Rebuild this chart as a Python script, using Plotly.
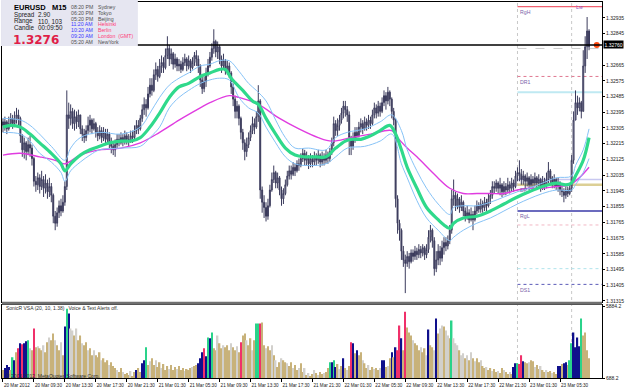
import plotly.graph_objects as go

# ---------------- data ----------------
close = [
1.3232,1.3234,1.3230,1.3233,1.3236,1.3233,1.3235,1.3238,1.3236,1.3226,
1.3218,1.3222,1.3217,1.3221,1.3219,1.3213,1.3200,1.3198,1.3202,1.3197,
1.3201,1.3196,1.3199,1.3194,1.3197,1.3192,1.3180,1.3176,1.3182,1.3186,
1.3183,1.3188,1.3197,1.3238,1.3236,1.3240,1.3233,1.3237,1.3234,1.3238,
1.3230,1.3227,1.3225,1.3229,1.3232,1.3235,1.3230,1.3233,1.3228,1.3226,
1.3229,1.3225,1.3228,1.3224,1.3227,1.3222,1.3220,1.3218,1.3221,1.3224,
1.3222,1.3225,1.3223,1.3226,1.3224,1.3223,1.3226,1.3225,1.3229,1.3232,
1.3230,1.3236,1.3241,1.3244,1.3242,1.3250,1.3255,1.3252,1.3261,1.3264,
1.3260,1.3266,1.3268,1.3265,1.3272,1.3276,1.3270,1.3273,1.3267,1.3270,
1.3266,1.3267,1.3264,1.3268,1.3270,1.3266,1.3269,1.3265,1.3268,1.3272,
1.3270,1.3266,1.3258,1.3253,1.3257,1.3262,1.3266,1.3271,1.3276,1.3280,
1.3274,1.3277,1.3270,1.3266,1.3269,1.3263,1.3266,1.3262,1.3254,1.3247,
1.3240,1.3243,1.3236,1.3228,1.3222,1.3217,1.3221,1.3225,1.3229,1.3233,
1.3231,1.3237,1.3246,1.3195,1.3188,1.3185,1.3180,1.3186,1.3195,1.3201,
1.3205,1.3199,1.3202,1.3195,1.3190,1.3193,1.3198,1.3203,1.3206,1.3204,
1.3208,1.3206,1.3210,1.3209,1.3213,1.3216,1.3212,1.3214,1.3210,1.3213,
1.3211,1.3214,1.3212,1.3215,1.3211,1.3214,1.3212,1.3215,1.3213,1.3217,
1.3222,1.3233,1.3229,1.3232,1.3235,1.3239,1.3243,1.3241,1.3238,1.3225,
1.3220,1.3225,1.3228,1.3226,1.3231,1.3233,1.3230,1.3234,1.3232,1.3235,
1.3233,1.3238,1.3242,1.3239,1.3243,1.3240,1.3245,1.3249,1.3246,1.3251,
1.3247,1.3240,1.3235,1.3190,1.3176,1.3172,1.3160,1.3155,1.3153,1.3157,
1.3154,1.3159,1.3157,1.3160,1.3158,1.3161,1.3159,1.3162,1.3158,1.3161,
1.3168,1.3172,1.3166,1.3150,1.3155,1.3160,1.3156,1.3162,1.3165,1.3163,
1.3166,1.3172,1.3190,1.3192,1.3186,1.3190,1.3185,1.3188,1.3183,1.3180,
1.3182,1.3178,1.3181,1.3178,1.3183,1.3186,1.3184,1.3187,1.3185,1.3188,
1.3186,1.3190,1.3192,1.3197,1.3196,1.3199,1.3196,1.3198,1.3194,1.3197,
1.3195,1.3198,1.3196,1.3199,1.3197,1.3203,1.3205,1.3204,1.3201,1.3203,
1.3200,1.3202,1.3198,1.3201,1.3199,1.3202,1.3199,1.3201,1.3197,1.3200,
1.3198,1.3201,1.3206,1.3202,1.3199,1.3201,1.3197,1.3199,1.3195,1.3194,
1.3192,1.3195,1.3193,1.3196,1.3212,1.3235,1.3245,1.3242,1.3245,1.3240,
1.3266,1.3277,1.3286,1.3277]

high = [
1.3236,1.3237,1.3235,1.3237,1.3239,1.3238,1.3240,1.3242,1.3241,1.3237,
1.3227,1.3225,1.3223,1.3225,1.3226,1.3221,1.3214,1.3203,1.3205,1.3204,
1.3206,1.3203,1.3204,1.3201,1.3202,1.3199,1.3193,1.3183,1.3185,1.3189,
1.3190,1.3192,1.3200,1.3252,1.3245,1.3244,1.3242,1.3241,1.3240,1.3241,
1.3238,1.3232,1.3230,1.3232,1.3237,1.3238,1.3236,1.3236,1.3234,1.3231,
1.3232,1.3231,1.3231,1.3230,1.3230,1.3228,1.3225,1.3223,1.3224,1.3227,
1.3227,1.3228,1.3227,1.3229,1.3228,1.3227,1.3229,1.3229,1.3232,1.3235,
1.3235,1.3238,1.3244,1.3248,1.3247,1.3254,1.3259,1.3259,1.3264,1.3268,
1.3266,1.3270,1.3272,1.3271,1.3276,1.3283,1.3278,1.3276,1.3274,1.3273,
1.3271,1.3270,1.3269,1.3271,1.3273,1.3271,1.3272,1.3270,1.3271,1.3274,
1.3275,1.3272,1.3267,1.3260,1.3260,1.3265,1.3270,1.3274,1.3279,1.3287,
1.3281,1.3280,1.3278,1.3272,1.3273,1.3270,1.3269,1.3268,1.3263,1.3256,
1.3249,1.3246,1.3244,1.3237,1.3230,1.3224,1.3225,1.3228,1.3232,1.3237,
1.3236,1.3240,1.3255,1.3247,1.3197,1.3192,1.3188,1.3190,1.3198,1.3205,
1.3209,1.3206,1.3205,1.3203,1.3197,1.3196,1.3201,1.3206,1.3209,1.3209,
1.3211,1.3210,1.3212,1.3213,1.3216,1.3219,1.3218,1.3217,1.3215,1.3216,
1.3215,1.3217,1.3216,1.3218,1.3216,1.3217,1.3216,1.3218,1.3217,1.3219,
1.3225,1.3237,1.3235,1.3236,1.3238,1.3242,1.3246,1.3246,1.3243,1.3240,
1.3226,1.3228,1.3231,1.3231,1.3234,1.3236,1.3235,1.3237,1.3236,1.3238,
1.3237,1.3241,1.3245,1.3244,1.3246,1.3245,1.3248,1.3252,1.3251,1.3254,
1.3252,1.3248,1.3242,1.3236,1.3192,1.3178,1.3173,1.3163,1.3158,1.3160,
1.3159,1.3161,1.3161,1.3163,1.3162,1.3164,1.3163,1.3164,1.3163,1.3164,
1.3172,1.3175,1.3173,1.3168,1.3160,1.3164,1.3163,1.3166,1.3168,1.3168,
1.3169,1.3175,1.3195,1.3201,1.3194,1.3193,1.3191,1.3192,1.3189,1.3185,
1.3186,1.3184,1.3185,1.3183,1.3186,1.3189,1.3188,1.3190,1.3189,1.3191,
1.3190,1.3193,1.3195,1.3200,1.3200,1.3201,1.3200,1.3202,1.3199,1.3200,
1.3199,1.3202,1.3200,1.3202,1.3201,1.3206,1.3208,1.3212,1.3207,1.3206,
1.3204,1.3205,1.3203,1.3204,1.3203,1.3205,1.3203,1.3204,1.3202,1.3203,
1.3202,1.3205,1.3211,1.3207,1.3203,1.3204,1.3202,1.3202,1.3200,1.3198,
1.3196,1.3197,1.3197,1.3199,1.3215,1.3240,1.3252,1.3249,1.3248,1.3246,
1.3275,1.3283,1.3294,1.3287]

low = [
1.3228,1.3229,1.3227,1.3229,1.3231,1.3230,1.3231,1.3233,1.3232,1.3222,
1.3214,1.3213,1.3212,1.3215,1.3214,1.3209,1.3197,1.3194,1.3195,1.3193,
1.3195,1.3191,1.3193,1.3190,1.3191,1.3188,1.3176,1.3172,1.3174,1.3179,
1.3180,1.3182,1.3186,1.3195,1.3230,1.3232,1.3230,1.3229,1.3230,1.3231,
1.3227,1.3223,1.3222,1.3223,1.3227,1.3228,1.3227,1.3229,1.3225,1.3223,
1.3224,1.3222,1.3223,1.3221,1.3222,1.3219,1.3216,1.3215,1.3214,1.3219,
1.3220,1.3221,1.3220,1.3221,1.3221,1.3220,1.3222,1.3222,1.3224,1.3227,
1.3227,1.3229,1.3234,1.3238,1.3237,1.3241,1.3248,1.3249,1.3251,1.3258,
1.3257,1.3259,1.3262,1.3262,1.3264,1.3270,1.3266,1.3267,1.3264,1.3265,
1.3263,1.3263,1.3262,1.3263,1.3266,1.3263,1.3264,1.3262,1.3264,1.3266,
1.3266,1.3262,1.3254,1.3250,1.3251,1.3254,1.3260,1.3265,1.3269,1.3273,
1.3271,1.3270,1.3267,1.3262,1.3264,1.3261,1.3261,1.3259,1.3250,1.3243,
1.3236,1.3236,1.3232,1.3224,1.3218,1.3212,1.3214,1.3219,1.3223,1.3227,
1.3227,1.3230,1.3234,1.3190,1.3182,1.3179,1.3177,1.3178,1.3185,1.3194,
1.3199,1.3196,1.3196,1.3192,1.3186,1.3187,1.3192,1.3197,1.3201,1.3201,
1.3203,1.3203,1.3205,1.3206,1.3208,1.3211,1.3209,1.3209,1.3207,1.3208,
1.3208,1.3209,1.3209,1.3210,1.3208,1.3209,1.3209,1.3210,1.3210,1.3211,
1.3215,1.3220,1.3226,1.3226,1.3229,1.3233,1.3236,1.3237,1.3234,1.3215,
1.3215,1.3218,1.3222,1.3223,1.3225,1.3228,1.3227,1.3229,1.3229,1.3230,
1.3230,1.3232,1.3236,1.3236,1.3237,1.3237,1.3239,1.3243,1.3241,1.3244,
1.3243,1.3236,1.3232,1.3185,1.3170,1.3166,1.3155,1.3151,1.3136,1.3151,
1.3150,1.3153,1.3154,1.3155,1.3155,1.3156,1.3156,1.3157,1.3155,1.3156,
1.3159,1.3165,1.3162,1.3146,1.3148,1.3152,1.3152,1.3154,1.3158,1.3160,
1.3161,1.3164,1.3170,1.3186,1.3183,1.3184,1.3182,1.3183,1.3180,1.3177,
1.3178,1.3176,1.3177,1.3172,1.3177,1.3181,1.3182,1.3182,1.3182,1.3183,
1.3183,1.3185,1.3187,1.3190,1.3193,1.3194,1.3193,1.3192,1.3191,1.3192,
1.3192,1.3193,1.3193,1.3194,1.3194,1.3196,1.3200,1.3200,1.3198,1.3198,
1.3196,1.3197,1.3195,1.3196,1.3196,1.3197,1.3196,1.3197,1.3194,1.3195,
1.3195,1.3196,1.3199,1.3199,1.3196,1.3196,1.3195,1.3194,1.3192,1.3191,
1.3188,1.3190,1.3191,1.3192,1.3194,1.3210,1.3235,1.3238,1.3240,1.3236,
1.3240,1.3262,1.3270,1.3275]

first_open = 1.3234

volume = [
654,817,1062,899,654,1716,1471,2124,2451,2860,
2778,2860,3023,3105,2451,2288,4085,2533,2614,2451,
2288,2696,2124,2941,3350,3105,3677,3105,2696,2288,
2941,1879,4248,5719,5311,4085,3922,3513,4085,3105,
3513,2860,2696,2941,2288,2451,1879,2288,1879,1716,
2124,1471,1634,1307,1471,1062,1307,980,817,654,
490,817,490,327,409,245,572,163,490,654,
817,490,1226,1471,2533,1062,1389,1634,1062,1471,
899,1307,817,1144,654,980,735,1062,654,899,
735,980,654,817,572,735,654,817,899,980,
1062,1226,1634,2124,2451,1797,3350,3268,3758,2451,
2288,3513,2860,2451,2696,2533,2696,2288,2860,2533,
2288,2614,2124,2941,3513,3677,3105,2696,3268,2288,
3105,4494,4494,4494,4575,2696,2451,2614,2288,2696,
1879,1471,899,1307,1634,1471,1307,1226,980,1307,
817,1062,654,817,1226,490,817,245,409,163,
327,654,409,245,490,327,409,490,817,1307,
1307,1471,899,1144,735,980,1634,817,654,980,
2941,2860,2043,2288,1879,2124,1471,1226,817,1062,
654,899,735,817,654,817,1471,1471,899,980,
1634,2124,1716,2533,2288,4330,3268,2288,5474,4167,
3758,3513,3105,2860,2696,2288,2533,2124,2451,1879,
4003,2696,2533,2288,4902,3677,4085,4330,4248,3922,
3513,3268,4739,3268,2860,2696,2288,1879,2043,1634,
1879,1471,2124,1634,1389,1634,1307,1471,980,817,
899,654,817,572,735,490,572,409,817,654,
490,327,490,327,899,1226,1226,1144,1879,1389,
1307,1226,1307,1471,1389,899,1062,735,980,654,
490,654,490,572,409,490,327,980,980,1144,
1226,1307,1062,1471,2860,3758,2533,3350,2614,4902,
3513,3758,2288,1634]

# volume colour class per bar: t=tan, s=silver, b=blue, r=red, g=green
vol_class = ("tbbbtgbtrb" "rbbgstrtst" "tsttsttstt" "stbgbsstst" "tsttsttstt"
             "tstttsttts" "ttstttsttb" "ttbbgtstts" "ttstttsttt" "stttstttst"
             "tbbbrbgbgt" "tsttstttst" "tstrttstts" "tggrttstts" "tsttsttstt"
             "sttsttstst" "tststtsttg" "bgbtstbtst" "rbtbttstts" "ttsttsbbts"
             "tbtbrrbtrt" "ttstttstts" "bttsbtssts" "stgssstsst" "stststtstt"
             "sttsttstts" "ttstbbgrrb" "ttsttsttst" "tsttsttbbt" "bbtggbbbbg"
             "tttt")

# moving averages (bar index, price)
green_i = [0,4,9,14,19,25,30,32,35,40,45,50,55,61,66,71,76,81,86,91,96,102,107,112,115,118,
           124,129,132,136,141,146,151,156,162,167,172,177,180,185,190,195,200,203,206,209,
           214,219,225,228,231,233,238,245,252,259,266,272,279,286,291,294,296,300,303]
green_p = [1.3231,1.3232,1.3231,1.3227,1.3222,1.3216,1.3210,1.3206,1.3210,1.3215,1.3218,1.3220,
           1.3222,1.3223,1.3223,1.3225,1.3231,1.3239,1.3248,1.3254,1.3256,1.3260,1.3262,1.3264,
           1.3264,1.3259,1.3252,1.3246,1.3244,1.3236,1.3227,1.3219,1.3215,1.3214,1.3214,1.3214,
           1.3219,1.3223,1.3224,1.3224,1.3226,1.3229,1.3232,1.3227,1.3218,1.3208,1.3196,1.3185,
           1.3178,1.3175,1.3173,1.3176,1.3179,1.3180,1.3183,1.3187,1.3191,1.3194,1.3197,1.3199,
           1.3198,1.3199,1.3203,1.3212,1.3225]

upper_i = [0,9,14,25,32,35,40,50,61,71,76,81,86,91,96,102,107,112,117,122,127,131,136,141,146,
           151,158,167,172,178,187,195,201,206,209,214,219,225,231,233,238,245,252,259,266,272,
           279,286,294,296,300,303]
upper_p = [1.3236,1.3235,1.3232,1.3220,1.3212,1.3219,1.3225,1.3228,1.3227,1.3231,1.3239,1.3248,
           1.3255,1.3259,1.3262,1.3266,1.3267,1.3269,1.3269,1.3263,1.3256,1.3252,1.3246,1.3235,
           1.3225,1.3219,1.3219,1.3218,1.3225,1.3228,1.3230,1.3234,1.3238,1.3229,1.3218,1.3206,
           1.3196,1.3187,1.3181,1.3185,1.3186,1.3186,1.3188,1.3191,1.3194,1.3196,1.3199,1.3202,
           1.3203,1.3209,1.3218,1.3230]

lower_i = [0,9,14,19,25,30,32,35,40,45,50,61,71,76,81,86,91,96,102,107,112,117,122,127,132,136,
           141,146,151,158,167,172,178,187,195,201,206,209,214,219,225,231,233,238,245,252,259,
           266,272,279,286,294,296,300,303]
lower_p = [1.3228,1.3227,1.3223,1.3216,1.3211,1.3205,1.3200,1.3206,1.3211,1.3215,1.3218,1.3219,
           1.3220,1.3225,1.3231,1.3242,1.3248,1.3252,1.3256,1.3258,1.3259,1.3258,1.3248,1.3242,
           1.3239,1.3231,1.3222,1.3214,1.3210,1.3209,1.3210,1.3214,1.3219,1.3220,1.3223,1.3227,
           1.3210,1.3202,1.3189,1.3179,1.3172,1.3166,1.3168,1.3172,1.3176,1.3179,1.3183,1.3187,
           1.3190,1.3193,1.3195,1.3195,1.3198,1.3205,1.3213]

magenta_i = [0,9,19,27,32,40,50,61,71,81,91,102,107,117,122,132,143,153,163,170,180,190,201,204,
             209,214,223,231,238,245,252,259,266,272,279,286,293,298,303]
magenta_p = [1.3215,1.3216,1.3214,1.3212,1.3210,1.3215,1.3218,1.3219,1.3222,1.3228,1.3235,1.3242,
             1.3245,1.3249,1.3248,1.3244,1.3236,1.3230,1.3225,1.3223,1.3225,1.3227,1.3229,1.3225,
             1.3219,1.3214,1.3204,1.3196,1.3193,1.3193,1.3193,1.3193,1.3195,1.3196,1.3196,1.3197,
             1.3198,1.3202,1.3208]

# x axis labels
tick_idx = [0,16,32,48,64,80,96,112,128,144,160,176,192,208,224,240,256,272,288]
tick_labels = ["20 Mar 2012","20 Mar 09:30","20 Mar 13:30","20 Mar 17:30","20 Mar 21:30",
               "21 Mar 01:30","21 Mar 05:30","21 Mar 09:30","21 Mar 13:30","21 Mar 17:30",
               "21 Mar 21:30","22 Mar 01:30","22 Mar 05:30","22 Mar 09:30","22 Mar 13:30",
               "22 Mar 17:30","22 Mar 21:30","23 Mar 01:30","23 Mar 05:30"]
price_ticks = [1.32935,1.32845,1.32665,1.32575,1.32485,1.32395,1.32305,1.32215,1.32125,
               1.32035,1.31945,1.31855,1.31765,1.31675,1.31585,1.31495,1.31405,1.31315]
vol_ticks = [5884.2, 0]
vol_tick_text = ["5884.2", "688.2"]

current_level = 1.3278
current_text = "1.32760"

# pivot levels: (price, colour, dash, width, label)
pivots = [
    (1.3300, "#f06070", "solid", 1.2, "RgH"),
    (1.3276, "#cccccc", "dash", 1, ""),
    (1.3260, "#e07890", "dot", 1, "DR1"),
    (1.3251, "#bfe9f2", "solid", 2, ""),
    (1.3201, "#c8c8f0", "solid", 1.5, ""),
    (1.3198, "#dccf95", "solid", 2.5, "DP"),
    (1.3183, "#3a3aa8", "solid", 1.5, "RgL"),
    (1.3175, "#f2b8c4", "dot", 1, ""),
    (1.3150, "#b0e4ec", "dot", 1, ""),
    (1.3141, "#5a5ab8", "dot", 1, "DS1"),
]
pivot_start = 266
session_marks = [266, 294]

info_rows = [("Spread", "2.90"), ("Range", "110, 103"), ("Candle", "00:09:50")]
clock_rows = [("08:20 PM", "Sydney", 0), ("06:20 PM", "Tokyo", 0), ("05:20 PM", "Beijing", 0),
              ("11:20 AM", "Helsinki", 1), ("10:20 AM", "Berlin", 1),
              ("09:20 AM", "London  (GMT)", 1), ("05:20 AM", "NewYork", 0)]

# ---------------- figure ----------------
idx = list(range(len(close)))
opens = [first_open] + close[:-1]
cmap = {"t": "#c8b27a", "s": "#d2d0cc", "b": "#10108c", "r": "#f0306a", "g": "#2ad38a"}
vcols = [cmap[c] for c in vol_class]

XMAX = 309.7
fig = go.Figure()

fig.add_trace(go.Bar(x=idx, y=volume, width=0.75, marker=dict(color=vcols, line=dict(width=0)),
                     xaxis="x2", yaxis="y2", hoverinfo="skip"))

fig.add_trace(go.Candlestick(
    x=idx, open=opens, high=high, low=low, close=close, whiskerwidth=0,
    increasing=dict(line=dict(color="#3b3b5c", width=1), fillcolor="#b4b4c6"),
    decreasing=dict(line=dict(color="#3b3b5c", width=1), fillcolor="#3b3b5c"),
    xaxis="x", yaxis="y", hoverinfo="skip"))

fig.add_trace(go.Scatter(x=magenta_i, y=magenta_p, mode="lines", line=dict(color="#e03ce0", width=1.4, shape="spline"),
                         xaxis="x", yaxis="y", hoverinfo="skip"))
fig.add_trace(go.Scatter(x=upper_i, y=upper_p, mode="lines", line=dict(color="#86c2f6", width=1, shape="spline"),
                         xaxis="x", yaxis="y", hoverinfo="skip"))
fig.add_trace(go.Scatter(x=lower_i, y=lower_p, mode="lines", line=dict(color="#86c2f6", width=1, shape="spline"),
                         xaxis="x", yaxis="y", hoverinfo="skip"))
fig.add_trace(go.Scatter(x=green_i, y=green_p, mode="lines", line=dict(color="#2fd98b", width=3.2, shape="spline"),
                         xaxis="x", yaxis="y", hoverinfo="skip"))
fig.add_trace(go.Scatter(x=[307], y=[current_level], mode="markers",
                         marker=dict(color="#ff4a10", size=6), xaxis="x", yaxis="y", hoverinfo="skip"))

def PX(xp):
    return (xp - 1) / 605.0

def PY(yp):
    return (378 - yp) / 377.0

shapes = []
for m in session_marks:
    shapes.append(dict(type="line", xref="x", yref="paper", x0=m, x1=m, y0=0, y1=1,
                       line=dict(color="#c8c8c8", width=1, dash="dot"), layer="below"))
for price, col, dash, w, lab in pivots:
    shapes.append(dict(type="line", xref="x", yref="y", x0=pivot_start, x1=XMAX, y0=price, y1=price,
                       line=dict(color=col, width=w, dash=dash), layer="below"))
shapes.append(dict(type="line", xref="x", yref="y", x0=-0.5, x1=XMAX, y0=current_level, y1=current_level,
                   line=dict(color="#000000", width=1.3), layer="above"))
# pane separator
shapes.append(dict(type="rect", xref="paper", yref="paper", x0=0, x1=1, y0=PY(304.5), y1=PY(301.5),
                   fillcolor="#707070", line=dict(width=0), layer="above"))
# info panel
shapes.append(dict(type="rect", xref="paper", yref="paper", x0=PX(0), x1=PX(138), y0=PY(45), y1=PY(-1),
                   fillcolor="#e6e6f1", line=dict(width=0), layer="above"))

ann = []
def add_text(x, y, text, size, color, bold=False, family="Liberation Sans", xanchor="left"):
    ann.append(dict(xref="paper", yref="paper", x=PX(x), y=PY(y), text=("<b>%s</b>" % text) if bold else text,
                    showarrow=False, xanchor=xanchor, yanchor="middle",
                    font=dict(size=size, color=color, family=family)))

add_text(11, 6.5, "EURUSD&nbsp;&nbsp;&nbsp;M15", 7.5, "#000000", bold=True)
for k, (lab, val) in enumerate(info_rows):
    yy = 14 + k * 6.5
    add_text(11, yy, lab, 6.3, "#202020")
    add_text(35, yy, val, 6.3, "#202020")
add_text(10, 39.5, "1.3276", 12, "#e01e48", bold=True, family="DejaVu Sans")
for k, (t, city, hl) in enumerate(clock_rows):
    yy = 6 + k * 5.85
    add_text(69, yy, t, 5.2, "#3a3aff" if hl else "#505050")
    add_text(96, yy, city, 5.2, "#ff3a78" if hl else "#505050")

add_text(3, 307.5, "SonicR VSA (20, 10, 1.38)&nbsp;&nbsp;&nbsp;Voice &amp; Text Alerts off.", 5, "#303030")
add_text(3, 375.5, "© 2001-2012, MetaQuotes Software Corp.", 5, "#303030")

for price, col, dash, w, lab in pivots:
    if lab:
        ann.append(dict(xref="x", yref="y", x=pivot_start + 0.3, y=price, text=lab, showarrow=False,
                        xanchor="left", yanchor="top", yshift=-0.5,
                        font=dict(size=5.2, color="#7a60a8", family="Liberation Sans")))
ann.append(dict(xref="x", yref="y", x=295, y=1.3300, text="Lw", showarrow=False, xanchor="left",
                yanchor="middle", font=dict(size=5.2, color="#9050c0", family="Liberation Sans")))
# current price tag
ann.append(dict(xref="paper", yref="y", x=1.0, y=current_level, text=current_text, showarrow=False,
                xanchor="left", yanchor="middle", bgcolor="#000000", borderpad=0.5, xshift=1,
                font=dict(size=5, color="#ffffff", family="Liberation Sans")))

axis_common = dict(showgrid=False, zeroline=False, showline=True, mirror=True, linecolor="#000000", linewidth=1)
fig.update_layout(
    width=625, height=391,
    margin=dict(l=1, r=19, t=1, b=13),
    paper_bgcolor="#ffffff", plot_bgcolor="#ffffff",
    showlegend=False, hovermode=False,
    xaxis=dict(domain=[0, 1], anchor="y", range=[-0.5, XMAX], showticklabels=False, ticks="",
               rangeslider=dict(visible=False), **axis_common),
    yaxis=dict(domain=[PY(302), 1], anchor="x", side="right", range=[1.31308, 1.33026],
               tickvals=price_ticks, ticktext=["%.5f" % v for v in price_ticks],
               ticks="outside", ticklen=2, tickcolor="#000000",
               tickfont=dict(size=5, color="#202020", family="Liberation Sans"), **axis_common),
    xaxis2=dict(domain=[0, 1], anchor="y2", range=[-0.5, XMAX], matches="x",
                tickvals=tick_idx, ticktext=tick_labels, ticks="outside", ticklen=3, tickcolor="#000000",
                ticklabelposition="outside right", tickangle=0, ticklabelstandoff=2,
                tickfont=dict(size=4.6, color="#202020", family="Liberation Sans"), **axis_common),
    yaxis2=dict(domain=[0, PY(304.5)], anchor="x2", side="right", range=[0, 6046],
                tickvals=vol_ticks, ticktext=vol_tick_text, ticks="outside", ticklen=2, tickcolor="#000000",
                tickfont=dict(size=5, color="#202020", family="Liberation Sans"), **axis_common),
    shapes=shapes, annotations=ann,
)

fig.write_html("out.html")
